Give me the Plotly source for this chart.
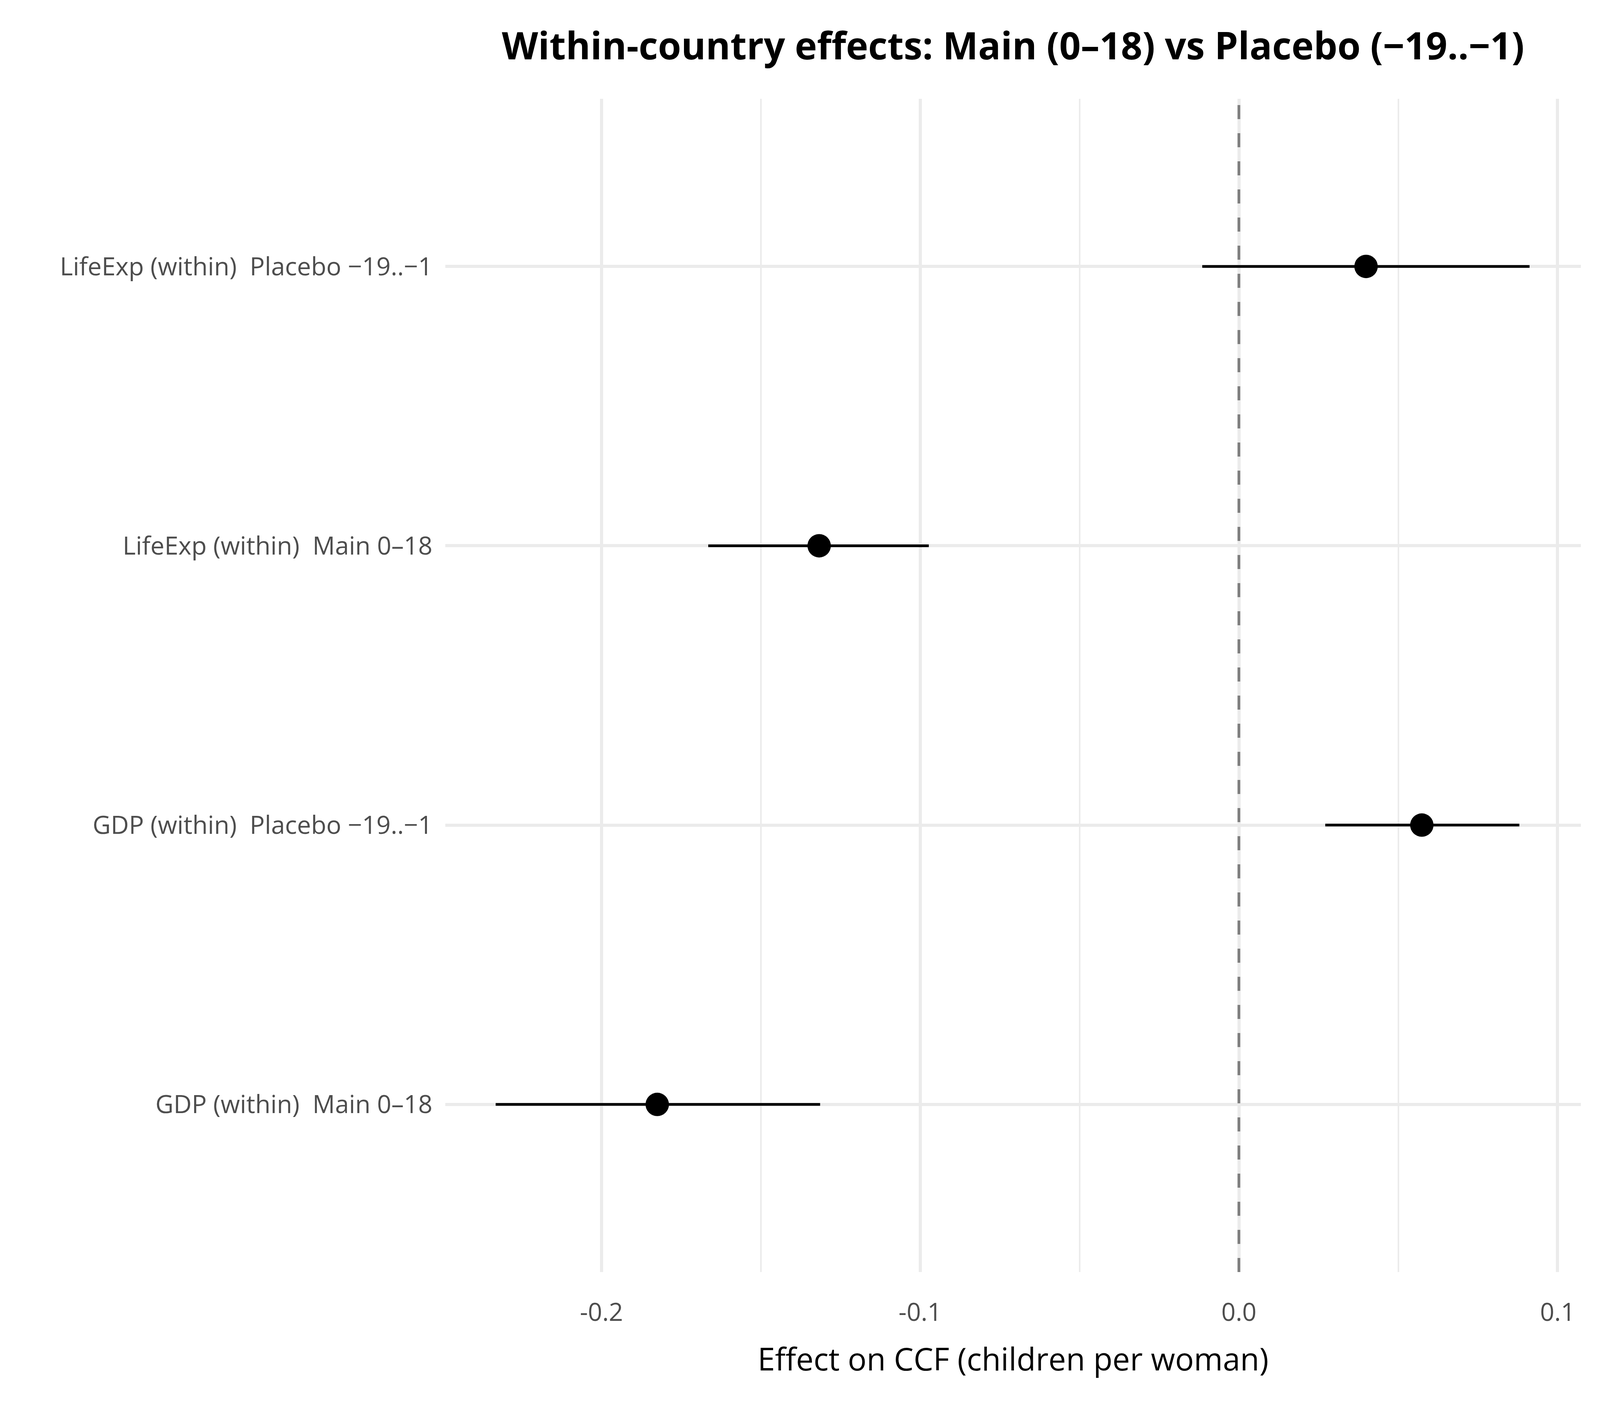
import plotly.graph_objects as go

# Data (bottom to top)
labels = [
    "GDP (within)  Main 0\u201318",
    "GDP (within)  Placebo \u221219..\u22121",
    "LifeExp (within)  Main 0\u201318",
    "LifeExp (within)  Placebo \u221219..\u22121",
]
estimates = [-0.1825, 0.0574, -0.1317, 0.0399]
ci_low = [-0.2332, 0.0271, -0.1665, -0.0115]
ci_high = [-0.1314, 0.0880, -0.0973, 0.0912]

x_tickvals = [-0.2, -0.1, 0.0, 0.1]
x_ticktext = ["-0.2", "-0.1", "0.0", "0.1"]
x_minor = [-0.15, -0.05, 0.05]
ref_x = 0.0

positions = list(range(len(labels)))
y_range = [-0.6, len(labels) - 1 + 0.6]

err_plus = [h - e for h, e in zip(ci_high, estimates)]
err_minus = [e - l for e, l in zip(estimates, ci_low)]

FONT = "Open Sans"
W, H = 4080, 3584  # browser viewport is 4096 wide; leave room for body margins

fig = go.Figure()
# dashed reference line at zero (drawn first so it sits under the estimates)
fig.add_trace(go.Scatter(
    x=[ref_x, ref_x], y=y_range, mode="lines",
    line=dict(color="#7f7f7f", width=7, dash="36px,36px"),
    showlegend=False, hoverinfo="skip",
))
fig.add_trace(go.Scatter(
    x=estimates, y=positions, mode="markers",
    marker=dict(size=60, color="black"),
    error_x=dict(type="data", symmetric=False, array=err_plus, arrayminus=err_minus,
                 color="black", thickness=7, width=0),
    text=labels, showlegend=False,
))

fig.update_layout(
    width=W, height=H,
    paper_bgcolor="white", plot_bgcolor="white",
    margin=dict(l=1132, r=41, t=245, b=335),
    title=dict(text="<b>Within-country effects: Main (0\u201318) vs Placebo (\u221219..\u22121)</b>",
               x=0.5, xref="paper", xanchor="center", y=1 - 110 / H, yanchor="middle",
               font=dict(family=FONT, size=96, color="black")),
    font=dict(family=FONT),
)

fig.update_xaxes(
    range=[-0.249, 0.1073],
    tickvals=x_tickvals, ticktext=x_ticktext,
    tickfont=dict(family=FONT, size=64, color="#4d4d4d"),
    showgrid=True, gridcolor="#ebebeb", gridwidth=8,
    minor=dict(tickvals=x_minor, showgrid=True, gridcolor="#ebebeb", gridwidth=4),
    zeroline=False, showline=False, ticks="",
    ticklabelstandoff=60,
    title=dict(text="Effect on CCF (children per woman)", standoff=52,
               font=dict(family=FONT, size=80, color="black")),
)
fig.update_yaxes(
    range=y_range,
    tickvals=positions, ticktext=labels,
    tickfont=dict(family=FONT, size=64, color="#4d4d4d"),
    showgrid=True, gridcolor="#ebebeb", gridwidth=8,
    zeroline=False, showline=False, ticks="",
    ticklabelstandoff=32,
)

fig.write_html("out.html")
